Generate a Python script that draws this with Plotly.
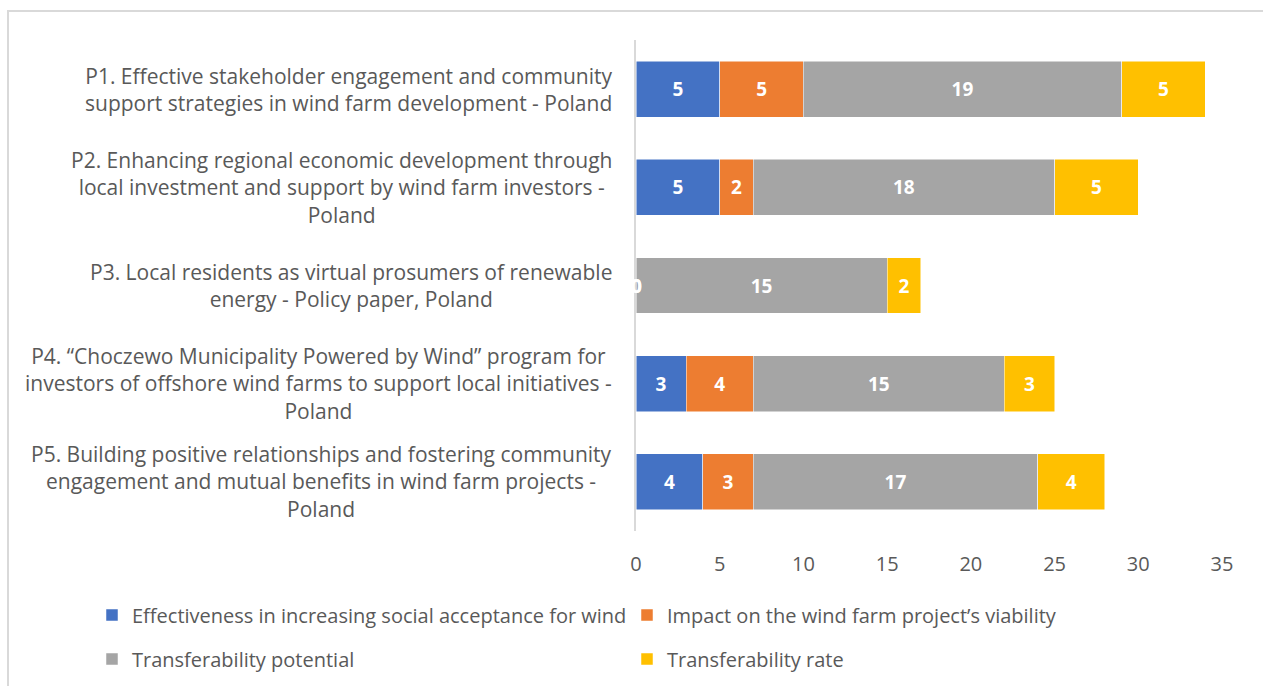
import plotly.graph_objects as go

categorias = [
    "P1. Effective stakeholder engagement and community<br>support strategies in wind farm development - Poland",
    "P2. Enhancing regional economic development through<br>local investment and support by wind farm investors -<br>Poland",
    "P3. Local residents as virtual prosumers of renewable<br>energy - Policy paper, Poland",
    "P4. “Choczewo Municipality Powered by Wind” program for<br>investors of offshore wind farms to support local initiatives -<br>Poland",
    "P5. Building positive relationships and fostering community<br>engagement and mutual benefits in wind farm projects -<br>Poland",
]
ids = ["P1", "P2", "P3", "P4", "P5"]

series = [
    "Effectiveness in increasing social acceptance for wind",
    "Impact on the wind farm project’s viability",
    "Transferability potential",
    "Transferability rate",
]
efectividad = [5, 5, 0, 3, 4]
impacto = [5, 2, 0, 4, 3]
potencial = [19, 18, 15, 15, 17]
tasa = [5, 5, 2, 3, 4]
valores = [efectividad, impacto, potencial, tasa]

colores = ["#4472C4", "#ED7D31", "#A5A5A5", "#FFC000"]
leyendas = ["legend", "legend", "legend2", "legend2"]

FUENTE = "Open Sans"
GRIS = "#595959"

fig = go.Figure()
for nombre, vals, color, leg in zip(series, valores, colores, leyendas):
    fig.add_trace(go.Bar(
        y=ids, x=vals, name=nombre, orientation="h",
        marker=dict(color=color, line=dict(color="white", width=0.5)),
        text=[str(v) for v in vals],
        textposition="inside", insidetextanchor="middle",
        textangle=0,
        textfont=dict(family=FUENTE, size=19, color="white", weight="bold"),
        legend=leg,
    ))

# etiquetas para los valores cero (Excel las dibuja sobre el eje)
anotaciones = []
for k, vals in enumerate(valores):
    for i, v in enumerate(vals):
        if v == 0:
            base = sum(vv[i] for vv in valores[:k])
            anotaciones.append(dict(
                x=base, y=ids[i], xref="x", yref="y", text="0", showarrow=False,
                font=dict(family=FUENTE, size=19, color="white", weight="bold"),
            ))

# etiquetas de categoría centradas como en Excel
for cid, texto in zip(ids, categorias):
    anotaciones.append(dict(
        x=0, y=cid, xref="paper", yref="y", text=texto, showarrow=False,
        xanchor="right", align="center", xshift=-22,
        font=dict(family=FUENTE, size=21, color=GRIS),
    ))

ancho_plot = 1263 - 636 - 41
alto_plot = 686 - 40 - 155

def px_x(px):
    return (px - 636) / ancho_plot

def px_y(px):
    return (531 - px) / alto_plot

fig.update_layout(
    width=1263, height=686,
    margin=dict(l=636, r=41, t=40, b=155, autoexpand=False),
    barmode="stack", bargap=0.43,
    paper_bgcolor="white", plot_bgcolor="white",
    font=dict(family=FUENTE, size=20, color=GRIS),
    xaxis=dict(range=[0, 35], dtick=5, showgrid=False, zeroline=False,
               showline=False, ticks="", ticklabelstandoff=19,
               tickfont=dict(family=FUENTE, size=20, color=GRIS)),
    yaxis=dict(autorange="reversed", showticklabels=False, showgrid=False,
               zeroline=False, showline=True, linecolor="#D9D9D9", linewidth=1.5,
               ticks=""),
    legend=dict(orientation="h", traceorder="normal",
                x=px_x(92), xanchor="left", y=px_y(615), yanchor="middle",
                entrywidth=490, entrywidthmode="pixels",
                font=dict(family=FUENTE, size=20, color=GRIS)),
    legend2=dict(orientation="h", traceorder="normal",
                 x=px_x(92), xanchor="left", y=px_y(659), yanchor="middle",
                 entrywidth=490, entrywidthmode="pixels",
                 font=dict(family=FUENTE, size=20, color=GRIS)),
    annotations=anotaciones,
    shapes=[dict(type="rect", xref="paper", yref="paper",
                 x0=px_x(8), x1=px_x(1280), y0=px_y(11), y1=px_y(700),
                 line=dict(color="#D9D9D9", width=2), layer="below")],
)

fig.write_html("out.html", config={"displayModeBar": False},
               post_script="document.body.style.margin='0';")
